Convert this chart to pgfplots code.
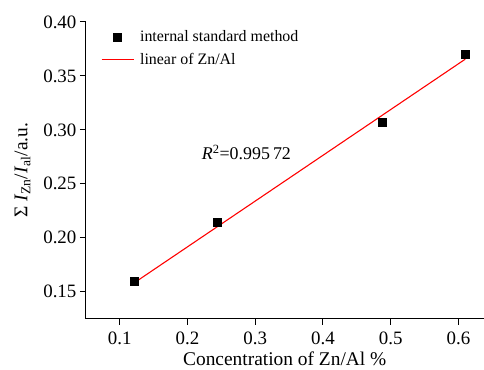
\documentclass[border=0pt]{standalone}
\usepackage{fontspec}
\setmainfont{Liberation Serif}
\usepackage{pgfplots}
\pgfplotsset{compat=1.18}
\usetikzlibrary{calc}
\begin{document}
\begin{tikzpicture}[x=1bp,y=1bp]
\begin{axis}[
  scale only axis,
  width=398bp, height=297bp,
  xmin=0.05, xmax=0.637,
  ymin=0.125, ymax=0.40,
  axis x line=bottom, axis y line=left,
  axis line style={-, line width=1pt},
  xtick={0.1,0.2,0.3,0.4,0.5,0.6},
  ytick={0.15,0.20,0.25,0.30,0.35,0.40},
  tick align=outside,
  major tick length=6bp,
  tick style={line width=1pt, black},
  /pgf/number format/assume math mode=true,
  xticklabel style={/pgf/number format/fixed, /pgf/number format/precision=1, yshift=-4bp},
  yticklabel style={/pgf/number format/fixed, /pgf/number format/fixed zerofill, /pgf/number format/precision=2},
  ticklabel style={font=\fontsize{19}{22}\selectfont},
  label style={font=\fontsize{19.5}{22}\selectfont},
  xlabel={Concentration of Zn/Al \%},
  ylabel={Σ \textit{I}\textsubscript{Zn}/\textit{I}\textsubscript{al}/a.u.},
  xlabel style={yshift=0bp},
  ylabel style={yshift=6bp},
  legend style={at={(0.03,0.985)}, anchor=north west, draw=none, fill=none,
    font=\fontsize{16}{19}\selectfont, row sep=6bp,
    nodes={inner xsep=6bp}},
  legend cell align=left,
  legend image code/.code={\draw[mark repeat=2,mark phase=2,#1] plot coordinates {(0bp,0bp) (16bp,0bp) (32bp,0bp)};},
  clip=false,
]
\addplot[only marks, mark=square*, mark size=4bp, black] coordinates {
  (0.122,0.160) (0.244,0.214) (0.488,0.307) (0.610,0.370)
};
\addlegendentry{internal standard method}
\addplot[red, line width=1.1pt] coordinates {(0.122,0.1585) (0.610,0.3655)};
\addlegendentry{linear of Zn/Al}
\node[font=\fontsize{18}{20}\selectfont] at (axis cs:0.287,0.279) {\textit{R}\textsuperscript{2}=0.995\,72};
\end{axis}
\path[use as bounding box] ($(current axis.south west)+(-86bp,-49bp)$) rectangle ($(current axis.north east)+(0bp,22bp)$);
\end{tikzpicture}
\end{document}
